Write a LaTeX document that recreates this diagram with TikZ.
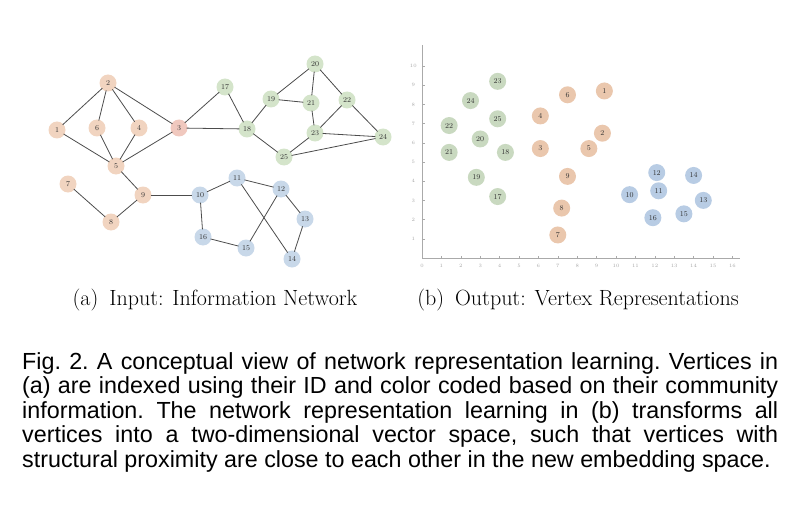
\documentclass[tikz,border=0pt]{standalone}
\usepackage{fontspec}
\newfontfamily\capfont{Liberation Sans}
\usetikzlibrary{positioning}

\definecolor{comA}{RGB}{241,212,192}
\definecolor{comB}{RGB}{212,228,202}
\definecolor{comC}{RGB}{200,216,233}
\definecolor{axisgray}{RGB}{170,170,170}

\begin{document}
\begin{tikzpicture}[x=1pt, y=-1pt,
        vtx/.style = {circle, inner sep=0pt, minimum size=17pt, font=\fontsize{7.5}{8}\selectfont, text=black!80},
        org/.style = {vtx, fill=comA},
        grn/.style = {vtx, fill=comB},
        blu/.style = {vtx, fill=comC},
        link/.style = {draw=black!70, line width=0.8pt, shorten <=-1pt, shorten >=-1pt},
        ticklab/.style = {font=\fontsize{5}{6}\selectfont, text=black!35, inner sep=0pt},
        subcap/.style = {font=\fontsize{22}{24}\selectfont, anchor=base},
    ]
    \useasboundingbox (0,0) rectangle (800,508);

    % (a) input network
    \node[org] (a1) at (57,130) {1};
    \node[org] (a2) at (108,83) {2};
    \node[org, fill={rgb,255:red,240;green,200;blue,190}] (a3) at (179,128) {3};
    \node[org] (a4) at (139,128) {4};
    \node[org] (a5) at (116,166) {5};
    \node[org] (a6) at (97,128) {6};
    \node[org] (a7) at (68,184) {7};
    \node[org] (a8) at (111,222) {8};
    \node[org] (a9) at (143,195) {9};
    \node[blu] (a10) at (200,195) {10};
    \node[blu] (a11) at (237,178) {11};
    \node[blu] (a12) at (281,189) {12};
    \node[blu] (a13) at (305,219) {13};
    \node[blu] (a14) at (292,259) {14};
    \node[blu] (a15) at (246,248) {15};
    \node[blu] (a16) at (203,237) {16};
    \node[grn] (a17) at (225,87) {17};
    \node[grn] (a18) at (247,129) {18};
    \node[grn] (a19) at (271,99) {19};
    \node[grn] (a20) at (315,64) {20};
    \node[grn] (a21) at (311,103) {21};
    \node[grn] (a22) at (347,100) {22};
    \node[grn] (a23) at (315,133) {23};
    \node[grn] (a24) at (383,137) {24};
    \node[grn] (a25) at (284,157) {25};

    \foreach \s/\t in {1/2, 2/6, 2/4, 2/3, 1/5, 6/5, 4/5, 3/5, 5/9, 7/8, 8/9, 9/10,
                       3/17, 3/18, 17/18, 18/19, 18/25, 19/20, 19/21, 20/21, 20/22,
                       21/23, 22/23, 22/24, 23/24, 23/25, 25/24,
                       10/11, 10/16, 11/12, 11/14, 12/15, 12/13, 13/14, 16/15}
        \draw[link] (a\s) -- (a\t);

    \node[subcap] (capa) at (215,305) {(a)\enspace Input: Information Network};

    % (b) vertex representations
    \begin{scope}[shift={(422,258)}, x=19.4pt, y=19.2pt]
        \coordinate (orig) at (0,0);
        \coordinate (xend) at (16.4,0);
        \coordinate (yend) at (0,11.1);
        \draw[axisgray, line width=0.6pt] (yend) -- (orig) -- (xend);
        \foreach \i in {1,...,16} {
            \draw[axisgray, line width=0.5pt] (\i,0) -- (\i,0.12);
            \node[ticklab] (xt\i) at (\i,-0.42) {\i};
        }
        \node[ticklab] (xt0) at (0,-0.42) {0};
        \foreach \j in {1,...,10} {
            \draw[axisgray, line width=0.5pt] (0,\j) -- (0.15,\j);
            \node[ticklab] (yt\j) at (-0.45,\j) {\j};
        }

        \foreach \n/\px/\py in {1/9.4/8.7, 2/9.3/6.5, 3/6.1/5.7, 4/6.1/7.4, 5/8.6/5.7,
                                6/7.5/8.5, 7/7.0/1.2, 8/7.2/2.6, 9/7.5/4.25}
            \node[org, fill=comA!85!brown] (b\n) at (\px,\py) {\n};
        \foreach \n/\px/\py in {10/10.7/3.3, 11/12.2/3.5, 12/12.1/4.45, 13/14.5/3.0,
                                14/14.0/4.3, 15/13.5/2.3, 16/11.9/2.1}
            \node[blu, fill={rgb,255:red,184;green,204;blue,228}] (b\n) at (\px,\py) {\n};
        \foreach \n/\px/\py in {17/3.9/3.2, 18/4.3/5.5, 19/2.8/4.2, 20/3.0/6.2, 21/1.4/5.5,
                                22/1.4/6.9, 23/3.9/9.2, 24/2.5/8.2, 25/3.9/7.25}
            \node[grn, fill=comB!95!black] (b\n) at (\px,\py) {\n};
    \end{scope}

    \node[subcap] (capb) at (578,305) {(b)\enspace Output: Vertex Representations};

    % figure caption
    \node[font=\capfont\fontsize{23.3}{24.5}\selectfont, text width=756pt, align=justify,
          anchor=base west, inner sep=0pt] (figcap) at (22,369)
        {\frenchspacing Fig. 2. A conceptual view of network representation learning. Vertices in\linebreak
         (a) are indexed using their ID and color coded based on their community\linebreak
         information. The network representation learning in (b) transforms all\linebreak
         vertices into a two-dimensional vector space, such that vertices with\linebreak
         structural proximity are close to each other in the new embedding space.};
\end{tikzpicture}
\end{document}
